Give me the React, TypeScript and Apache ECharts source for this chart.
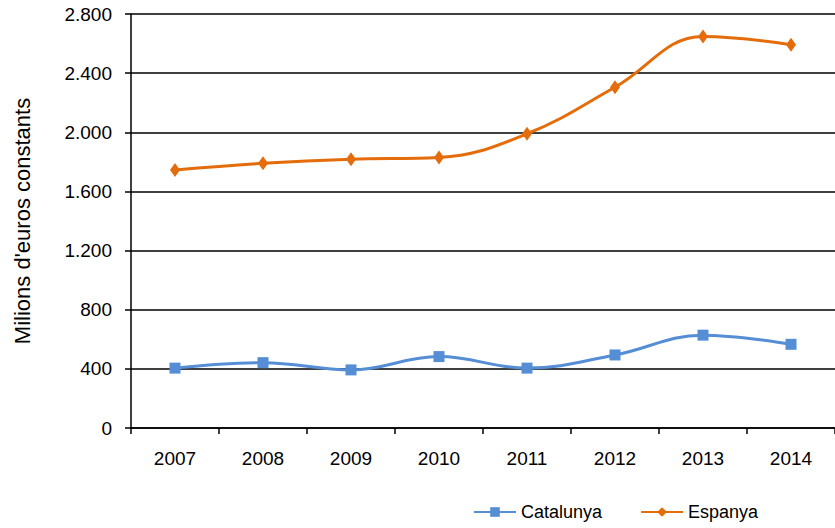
import React, { useEffect, useRef } from "react";
import * as echarts from "echarts";

const years = ["2007", "2008", "2009", "2010", "2011", "2012", "2013", "2014"];
const catalunya = [405, 442, 393, 483, 405, 494, 628, 566];
const espanya = [1745, 1790, 1818, 1830, 1990, 2305, 2648, 2592];
const yTicks = { min: 0, max: 2800, interval: 400 };

const fmt = (v: number) => String(v).replace(/\B(?=(\d{3})+(?!\d))/g, ".");

export default function App() {
  const ref = useRef<HTMLDivElement>(null);
  useEffect(() => {
    const chart = echarts.init(ref.current!, null, { renderer: "svg" });
    const font = "Liberation Sans, Arial, sans-serif";
    chart.setOption({
      animation: false,
      textStyle: { fontFamily: font },
      grid: { left: 131, right: 0, top: 14, bottom: 100 },
      xAxis: {
        type: "category",
        data: years,
        boundaryGap: true,
        axisLine: { lineStyle: { color: "#000", width: 1.5 } },
        axisTick: { show: true, length: 6, lineStyle: { color: "#000", width: 1.5 } },
        axisLabel: { color: "#000", fontSize: 19, margin: 21, fontFamily: font },
        splitLine: { show: false },
      },
      yAxis: {
        type: "value",
        min: yTicks.min,
        max: yTicks.max,
        interval: yTicks.interval,
        name: "Milions d'euros constants",
        nameLocation: "middle",
        nameGap: 98,
        nameTextStyle: { color: "#000", fontSize: 22, fontFamily: font },
        axisLine: { show: true, lineStyle: { color: "#000", width: 1.5 } },
        axisTick: { show: true, length: 6, lineStyle: { color: "#000", width: 1.5 } },
        axisLabel: { color: "#000", fontSize: 19, margin: 19, fontFamily: font, formatter: (v: number) => fmt(v) },
        splitLine: { show: true, lineStyle: { color: "#000", width: 1.5 } },
      },
      legend: {
        bottom: 2,
        left: 468,
        itemWidth: 42,
        itemHeight: 12,
        itemGap: 38,
        textStyle: { color: "#000", fontSize: 18, fontFamily: font },
        data: ["Catalunya", "Espanya"],
      },
      series: [
        {
          name: "Catalunya",
          type: "line",
          data: catalunya,
          smooth: 0.4,
          symbol: "rect",
          symbolSize: 11,
          lineStyle: { color: "#558ED5", width: 3 },
          itemStyle: { color: "#558ED5" },
        },
        {
          name: "Espanya",
          type: "line",
          data: espanya,
          smooth: 0.4,
          symbol: "diamond",
          symbolSize: [10, 14],
          lineStyle: { color: "#E46C0A", width: 3 },
          itemStyle: { color: "#E46C0A" },
        },
      ],
    });
    return () => chart.dispose();
  }, []);
  return (
    <div
      ref={ref}
      style={{ position: "fixed", left: 0, top: 0, width: 835, height: 528, background: "#fff" }}
    />
  );
}
